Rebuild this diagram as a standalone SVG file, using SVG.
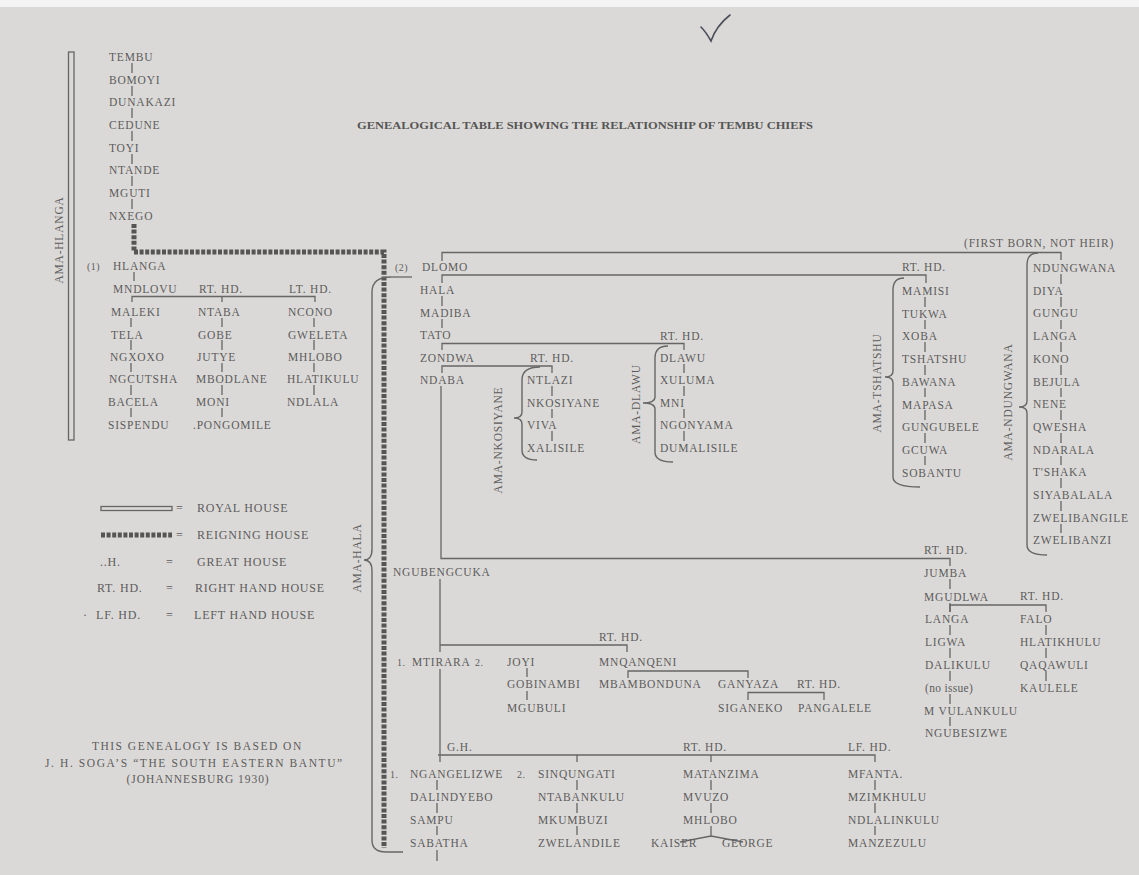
<svg xmlns="http://www.w3.org/2000/svg" width="1139" height="875" viewBox="0 0 1139 875">
<style>
text{font-family:"Liberation Serif","Times New Roman",serif;fill:#5c5c5c}
.t{font-size:11.5px;letter-spacing:0.8px}
.s{font-size:10px;letter-spacing:0.5px}
.lg{font-size:12px;letter-spacing:0.8px}
.title{font-size:10px;font-weight:bold;fill:#555}
.ln{fill:none;stroke:#666;stroke-width:1.3}
.br{fill:none;stroke:#666;stroke-width:1.4}
.rg{fill:none;stroke:#555;stroke-width:5;stroke-dasharray:4 1.6}
</style>
<rect width="1139" height="875" fill="#dbd9d7"/>
<rect width="1139" height="7" fill="#f4f4f4"/>
<path d="M701,27 Q706,32 711,41 Q716,26 730,15" fill="none" stroke="#4a4f5a" stroke-width="1.6" stroke-linecap="round"/>
<text class="title" x="357" y="129" textLength="456" lengthAdjust="spacingAndGlyphs">GENEALOGICAL TABLE SHOWING THE RELATIONSHIP OF TEMBU CHIEFS</text>

<g id="connectors">
<!-- royal house bar -->
<rect x="68.5" y="52" width="5.5" height="388" class="ln"/>
<!-- reigning house -->
<path class="rg" d="M134,224 V252 H384 V848"/>
<!-- ticks early line -->
<path class="ln" d="M132,63 V73 M132,86 V96 M132,108 V118 M132,131 V141 M132,154 V164 M132,176 V186 M132,199 V209"/>
<path class="ln" d="M134,272 V281 M132,302 V296.5 H315 V302 M222,296.5 V302"/>
<path class="ln" d="M131,318 V327 M131,340 V350 M131,363 V372 M131,385 V395 M131,408 V417"/>
<path class="ln" d="M222,318 V327 M222,340 V350 M222,363 V372 M222,385 V395 M222,408 V417"/>
<path class="ln" d="M314,318 V327 M314,340 V350 M314,363 V372 M314,385 V395"/>
<!-- Dlomo -->
<path class="ln" d="M391,277 H412"/>
<path class="ln" d="M442,261 V252.5 H1061 V260 M442,283 V275 H926 V283 M442,296 V306 M442,319 V328"/>
<path class="ln" d="M442,350 V343.5 H684 V350 M442,373 V366 H552 V373 M441,386 V558.5 H950 V566"/>
<path class="ln" d="M552,386 V396 M552,409 V418 M552,431 V441"/>
<path class="ln" d="M684,364 V373 M684,386 V396 M684,409 V418 M684,431 V441"/>
<path class="ln" d="M925,297 V307 M925,320 V329 M925,342 V352 M925,365 V375 M925,388 V397 M925,410 V420 M925,433 V443 M925,456 V465"/>
<path class="ln" d="M1061,274 V284 M1061,297 V307 M1061,320 V329 M1061,342 V352 M1061,365 V375 M1061,388 V397 M1061,410 V420 M1061,433 V443 M1061,456 V465 M1061,478 V488 M1061,501 V511 M1061,524 V533"/>
<!-- braces -->
<path class="br" d="M391,277 Q372,277 372,292 V549 Q372,560 364,560 Q372,560 372,571 V840 Q372,852 386,852 H403"/>
<path class="br" d="M540,367 Q522,367 522,380 V412 Q522,418 514,418 Q522,418 522,424 V450 Q522,460 537,460"/>
<path class="br" d="M668,346 Q655,346 655,358 V397 Q655,403 643,403 Q655,403 655,409 V452 Q655,462 673,462"/>
<path class="br" d="M904,278 Q893,278 893,290 V371 Q893,377 885,377 Q893,377 893,383 V477 Q893,487 920,487"/>
<path class="br" d="M1038,253 Q1027,253 1027,265 V401 Q1027,407 1019,407 Q1027,407 1027,413 V545 Q1027,555 1047,555"/>
<!-- Ngubengcuka -->
<path class="ln" d="M950,579 V589 M950,603 V612 M950,625 V635 M950,648 V658 M950,671 V681 M950,694 V704 M950,717 V726"/>
<path class="ln" d="M950,612 V605 H1046 V612 M1046,625 V635 M1046,648 V658 M1046,671 V681"/>
<path class="ln" d="M440,579 V652 M440,645 H627 V652 M527,668 V677 M527,691 V700"/>
<path class="ln" d="M628,678 V671 H748 V678 M748,700 V692.5 H824 V700"/>
<path class="ln" d="M440,669 V762 M438,755 H875 V762 M577,755 V762 M711,755 V762"/>
<path class="ln" d="M437,780 V790 M437,803 V813 M437,826 V835 M437,850 V861"/>
<path class="ln" d="M577,780 V790 M577,803 V813 M577,826 V835"/>
<path class="ln" d="M711,780 V790 M711,803 V813 M711,826 V836 M680,842 L711,836 L743,842"/>
<path class="ln" d="M875,780 V790 M875,803 V813 M875,826 V835"/>
</g>

<g id="labels">
<text class="t" transform="translate(63,240) rotate(-90)" text-anchor="middle">AMA-HLANGA</text>
<text class="t" transform="translate(361,558) rotate(-90)" text-anchor="middle">AMA-HALA</text>
<text class="t" transform="translate(502,440) rotate(-90)" text-anchor="middle">AMA-NKOSIYANE</text>
<text class="t" transform="translate(640,404) rotate(-90)" text-anchor="middle">AMA-DLAWU</text>
<text class="t" transform="translate(881,383) rotate(-90)" text-anchor="middle">AMA-TSHATSHU</text>
<text class="t" transform="translate(1012,402) rotate(-90)" text-anchor="middle">AMA-NDUNGWANA</text>
<text class="t" x="964" y="247">(FIRST BORN, NOT HEIR)</text>
<text class="t" x="199" y="293">RT.  HD.</text>
<text class="t" x="289" y="293">LT.  HD.</text>
<text class="t" x="660" y="340">RT.  HD.</text>
<text class="t" x="530" y="362">RT.  HD.</text>
<text class="t" x="902" y="271">RT. HD.</text>
<text class="t" x="924" y="554">RT.  HD.</text>
<text class="t" x="1020" y="600">RT.  HD.</text>
<text class="t" x="599" y="641">RT.  HD.</text>
<text class="t" x="797" y="688">RT.  HD.</text>
<text class="t" x="447" y="751">G.H.</text>
<text class="t" x="683" y="751">RT.  HD.</text>
<text class="t" x="848" y="751">LF.  HD.</text>
<text class="s" x="87" y="270">(1)</text>
<text class="s" x="395" y="271">(2)</text>
<text class="s" x="397" y="666">1.</text>
<text class="s" x="475" y="666">2.</text>
<text class="s" x="390" y="778">1.</text>
<text class="s" x="517" y="778">2.</text>
</g>

<g id="n-tembu"><text class="t" x="109" y="61">TEMBU</text></g>
<g id="n-bomoyi"><text class="t" x="109" y="84">BOMOYI</text></g>
<g id="n-dunakazi"><text class="t" x="109" y="106">DUNAKAZI</text></g>
<g id="n-cedune"><text class="t" x="109" y="129">CEDUNE</text></g>
<g id="n-toyi"><text class="t" x="109" y="152">TOYI</text></g>
<g id="n-ntande"><text class="t" x="109" y="174">NTANDE</text></g>
<g id="n-mguti"><text class="t" x="109" y="197">MGUTI</text></g>
<g id="n-nxego"><text class="t" x="109" y="220">NXEGO</text></g>
<g id="n-hlanga"><text class="t" x="113" y="270">HLANGA</text></g>
<g id="n-mndlovu"><text class="t" x="113" y="293">MNDLOVU</text></g>
<g id="n-maleki"><text class="t" x="111" y="316">MALEKI</text></g>
<g id="n-tela"><text class="t" x="111" y="338.5">TELA</text></g>
<g id="n-ngxoxo"><text class="t" x="110" y="361">NGXOXO</text></g>
<g id="n-ngcutsha"><text class="t" x="109" y="383">NGCUTSHA</text></g>
<g id="n-bacela"><text class="t" x="108" y="406">BACELA</text></g>
<g id="n-sispendu"><text class="t" x="108" y="428.5">SISPENDU</text></g>
<g id="n-ntaba"><text class="t" x="198" y="316">NTABA</text></g>
<g id="n-gobe"><text class="t" x="198" y="338.5">GOBE</text></g>
<g id="n-jutye"><text class="t" x="197" y="361">JUTYE</text></g>
<g id="n-mbodlane"><text class="t" x="196" y="383">MBODLANE</text></g>
<g id="n-moni"><text class="t" x="196" y="406">MONI</text></g>
<g id="n-pongomile"><text class="t" x="193" y="428.5">.PONGOMILE</text></g>
<g id="n-ncono"><text class="t" x="288" y="316">NCONO</text></g>
<g id="n-gweleta"><text class="t" x="288" y="338.5">GWELETA</text></g>
<g id="n-mhlobo1"><text class="t" x="288" y="361">MHLOBO</text></g>
<g id="n-hlatikulu"><text class="t" x="287" y="383">HLATIKULU</text></g>
<g id="n-ndlala"><text class="t" x="287" y="406">NDLALA</text></g>

<g id="n-dlomo"><text class="t" x="422" y="271">DLOMO</text></g>
<g id="n-hala"><text class="t" x="420" y="294">HALA</text></g>
<g id="n-madiba"><text class="t" x="420" y="317">MADIBA</text></g>
<g id="n-tato"><text class="t" x="420" y="339">TATO</text></g>
<g id="n-zondwa"><text class="t" x="420" y="362">ZONDWA</text></g>
<g id="n-ndaba"><text class="t" x="420" y="384">NDABA</text></g>
<g id="n-ntlazi"><text class="t" x="527" y="384">NTLAZI</text></g>
<g id="n-nkosiyane"><text class="t" x="527" y="407">NKOSIYANE</text></g>
<g id="n-viva"><text class="t" x="527" y="429">VIVA</text></g>
<g id="n-xalisile"><text class="t" x="527" y="451.5">XALISILE</text></g>
<g id="n-dlawu"><text class="t" x="660" y="362">DLAWU</text></g>
<g id="n-xuluma"><text class="t" x="660" y="384">XULUMA</text></g>
<g id="n-mni"><text class="t" x="660" y="407">MNI</text></g>
<g id="n-ngonyama"><text class="t" x="660" y="429">NGONYAMA</text></g>
<g id="n-dumalisile"><text class="t" x="660" y="451.5">DUMALISILE</text></g>

<g id="n-mamisi"><text class="t" x="902" y="295">MAMISI</text></g>
<g id="n-tukwa"><text class="t" x="902" y="317.7">TUKWA</text></g>
<g id="n-xoba"><text class="t" x="902" y="340.4">XOBA</text></g>
<g id="n-tshatshu"><text class="t" x="902" y="363.1">TSHATSHU</text></g>
<g id="n-bawana"><text class="t" x="902" y="385.8">BAWANA</text></g>
<g id="n-mapasa"><text class="t" x="902" y="408.5">MAPASA</text></g>
<g id="n-gungubele"><text class="t" x="902" y="431.2">GUNGUBELE</text></g>
<g id="n-gcuwa"><text class="t" x="902" y="453.9">GCUWA</text></g>
<g id="n-sobantu"><text class="t" x="902" y="476.6">SOBANTU</text></g>

<g id="n-ndungwana"><text class="t" x="1033" y="272">NDUNGWANA</text></g>
<g id="n-diya"><text class="t" x="1033" y="294.7">DIYA</text></g>
<g id="n-gungu"><text class="t" x="1033" y="317.4">GUNGU</text></g>
<g id="n-langa1"><text class="t" x="1033" y="340.1">LANGA</text></g>
<g id="n-kono"><text class="t" x="1033" y="362.8">KONO</text></g>
<g id="n-bejula"><text class="t" x="1033" y="385.5">BEJULA</text></g>
<g id="n-nene"><text class="t" x="1033" y="408.2">NENE</text></g>
<g id="n-qwesha"><text class="t" x="1033" y="430.9">QWESHA</text></g>
<g id="n-ndarala"><text class="t" x="1033" y="453.6">NDARALA</text></g>
<g id="n-tshaka"><text class="t" x="1033" y="476.3">T'SHAKA</text></g>
<g id="n-siyabalala"><text class="t" x="1033" y="499">SIYABALALA</text></g>
<g id="n-zwelibangile"><text class="t" x="1033" y="521.7">ZWELIBANGILE</text></g>
<g id="n-zwelibanzi"><text class="t" x="1033" y="544.4">ZWELIBANZI</text></g>

<g id="n-ngubengcuka"><text class="t" x="393" y="576">NGUBENGCUKA</text></g>
<g id="n-jumba"><text class="t" x="924" y="577">JUMBA</text></g>
<g id="n-mgudlwa"><text class="t" x="924" y="600.5">MGUDLWA</text></g>
<g id="n-langa2"><text class="t" x="925" y="623">LANGA</text></g>
<g id="n-ligwa"><text class="t" x="925" y="646">LIGWA</text></g>
<g id="n-dalikulu"><text class="t" x="925" y="669">DALIKULU</text></g>
<g id="n-noissue"><text class="t" x="925" y="692" style="letter-spacing:0.3px">(no issue)</text></g>
<g id="n-mvulankulu"><text class="t" x="924" y="715">M VULANKULU</text></g>
<g id="n-ngubesizwe"><text class="t" x="925" y="737">NGUBESIZWE</text></g>
<g id="n-falo"><text class="t" x="1020" y="623">FALO</text></g>
<g id="n-hlatikhulu"><text class="t" x="1020" y="646">HLATIKHULU</text></g>
<g id="n-qaqawuli"><text class="t" x="1020" y="669">QAQAWULI</text></g>
<g id="n-kaulele"><text class="t" x="1020" y="692">KAULELE</text></g>

<g id="n-mtirara"><text class="t" x="412" y="666">MTIRARA</text></g>
<g id="n-joyi"><text class="t" x="507" y="666">JOYI</text></g>
<g id="n-gobinambi"><text class="t" x="507" y="688">GOBINAMBI</text></g>
<g id="n-mgubuli"><text class="t" x="507" y="711.5">MGUBULI</text></g>
<g id="n-mnqanqeni"><text class="t" x="599" y="666">MNQANQENI</text></g>
<g id="n-mbambonduna"><text class="t" x="599" y="688">MBAMBONDUNA</text></g>
<g id="n-ganyaza"><text class="t" x="718" y="688">GANYAZA</text></g>
<g id="n-siganeko"><text class="t" x="718" y="711.5">SIGANEKO</text></g>
<g id="n-pangalele"><text class="t" x="798" y="711.5">PANGALELE</text></g>

<g id="n-ngangelizwe"><text class="t" x="410" y="778">NGANGELIZWE</text></g>
<g id="n-dalindyebo"><text class="t" x="410" y="801">DALINDYEBO</text></g>
<g id="n-sampu"><text class="t" x="410" y="824">SAMPU</text></g>
<g id="n-sabatha"><text class="t" x="410" y="847">SABATHA</text></g>
<g id="n-sinqungati"><text class="t" x="538" y="778">SINQUNGATI</text></g>
<g id="n-ntabankulu"><text class="t" x="538" y="801">NTABANKULU</text></g>
<g id="n-mkumbuzi"><text class="t" x="538" y="824">MKUMBUZI</text></g>
<g id="n-zwelandile"><text class="t" x="538" y="847">ZWELANDILE</text></g>
<g id="n-matanzima"><text class="t" x="683" y="778">MATANZIMA</text></g>
<g id="n-mvuzo"><text class="t" x="683" y="801">MVUZO</text></g>
<g id="n-mhlobo2"><text class="t" x="683" y="824">MHLOBO</text></g>
<g id="n-kaiser"><text class="t" x="651" y="847">KAISER</text></g>
<g id="n-george"><text class="t" x="722" y="847">GEORGE</text></g>
<g id="n-mfanta"><text class="t" x="848" y="778">MFANTA.</text></g>
<g id="n-mzimkhulu"><text class="t" x="848" y="801">MZIMKHULU</text></g>
<g id="n-ndlalinkulu"><text class="t" x="848" y="824">NDLALINKULU</text></g>
<g id="n-manzezulu"><text class="t" x="848" y="847">MANZEZULU</text></g>

<g id="legend">
<rect x="101" y="506.5" width="71" height="4" class="ln"/>
<path d="M101,535 H172" stroke="#555" stroke-width="5" stroke-dasharray="4 1.6" fill="none"/>
<text class="lg" x="176" y="512">=</text>
<text class="lg" x="176" y="539">=</text>
<text class="lg" x="166" y="566">=</text>
<text class="lg" x="166" y="592">=</text>
<text class="lg" x="166" y="619">=</text>
<text class="lg" x="197" y="512">ROYAL HOUSE</text>
<text class="lg" x="197" y="539">REIGNING HOUSE</text>
<text class="lg" x="100" y="566">..H.</text>
<text class="lg" x="197" y="566">GREAT HOUSE</text>
<text class="lg" x="97" y="592">RT.  HD.</text>
<text class="lg" x="195" y="592">RIGHT HAND HOUSE</text>
<text class="lg" x="83" y="619">·</text>
<text class="lg" x="96" y="619">LF.  HD.</text>
<text class="lg" x="194" y="619">LEFT HAND HOUSE</text>
</g>

<g id="source">
<text class="t" x="197" y="750" text-anchor="middle" textLength="210">THIS GENEALOGY IS BASED ON</text>
<text class="t" x="194" y="767" text-anchor="middle" textLength="298">J. H. SOGA’S “THE SOUTH EASTERN BANTU”</text>
<text class="t" x="198" y="783" text-anchor="middle" textLength="143">(JOHANNESBURG 1930)</text>
</g>
</svg>
